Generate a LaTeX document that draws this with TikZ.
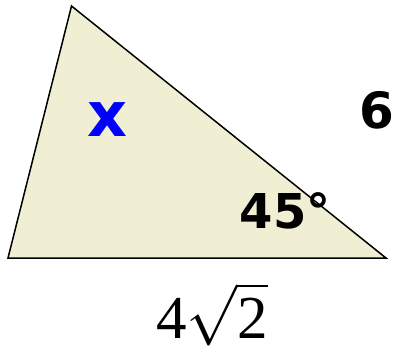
\documentclass[tikz,border=0pt]{standalone}
\usepackage{fontspec}
\newfontfamily\dejab{DejaVu Sans Bold}
\newfontfamily\tms{Liberation Serif}
\definecolor{tri}{HTML}{F0EFD4}
\definecolor{xblue}{HTML}{0000FF}
\tikzset{lab/.style={inner sep=0pt, anchor=base}}
\begin{document}
\begin{tikzpicture}[x=1pt,y=-1pt]
\useasboundingbox (0,0) rectangle (395,349);
\coordinate (A) at (71.5,6);
\coordinate (B) at (8,258);
\coordinate (C) at (386,258);
\draw[fill=tri, line width=1.5pt, line join=miter] (A) -- (B) -- (C) -- cycle;
\node[lab, text=xblue, font=\dejab\fontsize{62}{64}\selectfont] (x) at (107,136) {x};
\node[lab, font=\dejab\fontsize{50}{52}\selectfont] (six) at (377,128) {6};
\node[lab, font=\dejab\fontsize{48}{50}\selectfont] (ang) at (285,228) {45°};
\node[lab, scale=6.1] (base) at (212,338) {$\mbox{\tms 4}\sqrt{\mbox{\tms 2}}$};
\end{tikzpicture}
\end{document}
